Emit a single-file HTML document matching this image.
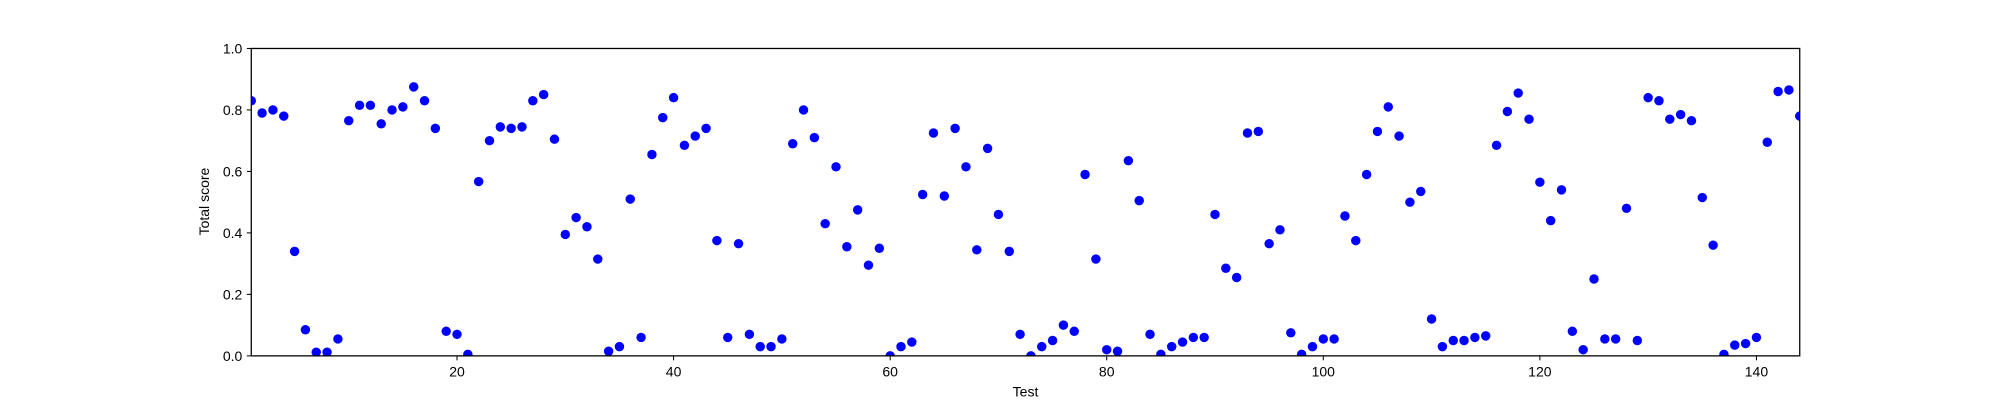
<!DOCTYPE html>
<html><head><meta charset="utf-8"><style>
html,body{margin:0;padding:0;background:#fff;}
svg{display:block;font-family:"Liberation Sans","DejaVu Sans",sans-serif;}
</style></head><body>
<svg id="chart" width="2000" height="400" viewBox="0 0 1568 313.6" preserveAspectRatio="none" xmlns="http://www.w3.org/2000/svg">
<defs><clipPath id="clip"><rect x="197" y="38" width="1214" height="241"/></clipPath></defs>
<g id="points" clip-path="url(#clip)"></g>
<rect x="197" y="38" width="1214" height="241" fill="none" stroke="#000" stroke-width="1"/>
<g id="xticks"></g>
<g id="yticks"></g>
<text x="804" y="311" font-size="11" text-anchor="middle">Test</text>
<text x="164" y="158" font-size="11" text-anchor="middle" transform="rotate(-90 164 158)">Total score</text>
</svg>
<script>
const scores = [0.83,0.79,0.80,0.78,0.34,0.085,0.012,0.012,0.055,0.765,
0.815,0.815,0.755,0.80,0.81,0.875,0.83,0.74,0.08,0.07,
0.005,0.567,0.70,0.745,0.74,0.745,0.83,0.85,0.705,0.395,
0.45,0.42,0.315,0.015,0.03,0.51,0.06,0.655,0.775,0.84,
0.685,0.715,0.74,0.375,0.06,0.365,0.07,0.03,0.03,0.055,
0.69,0.80,0.71,0.43,0.615,0.355,0.475,0.295,0.35,0.0,
0.03,0.045,0.525,0.725,0.52,0.74,0.615,0.345,0.675,0.46,
0.34,0.07,0.0,0.03,0.05,0.10,0.08,0.59,0.315,0.02,
0.015,0.635,0.505,0.07,0.005,0.03,0.045,0.06,0.06,0.46,
0.285,0.255,0.725,0.73,0.365,0.41,0.075,0.005,0.03,0.055,
0.055,0.455,0.375,0.59,0.73,0.81,0.715,0.50,0.535,0.12,
0.03,0.05,0.05,0.06,0.065,0.685,0.795,0.855,0.77,0.565,
0.44,0.54,0.08,0.02,0.25,0.055,0.055,0.48,0.05,0.84,
0.83,0.77,0.785,0.765,0.515,0.36,0.005,0.035,0.04,0.06,
0.695,0.86,0.865,0.78];
const xTickValues = [20,40,60,80,100,120,140];
const yTickValues = [0.0,0.2,0.4,0.6,0.8,1.0];
const yTickLabels = ["0.0","0.2","0.4","0.6","0.8","1.0"];

const NS = "http://www.w3.org/2000/svg";
const X0=197, X1=1411, Y0=279, Y1=38, XMIN=1, XMAX=144;
function xs(v){return X0+(v-XMIN)/(XMAX-XMIN)*(X1-X0);}
function ys(v){return Y0-v*(Y0-Y1);}
const pts=document.getElementById('points');
scores.forEach((s,i)=>{
  const c=document.createElementNS(NS,'circle');
  c.setAttribute('cx',xs(i+1));c.setAttribute('cy',ys(s));c.setAttribute('r',3.7);
  c.setAttribute('fill','#0000ff');
  
  
  pts.appendChild(c);
});
const xg=document.getElementById('xticks');
xTickValues.forEach(v=>{
  const x=xs(v);
  const l=document.createElementNS(NS,'line');
  l.setAttribute('x1',x);l.setAttribute('x2',x);l.setAttribute('y1',279);l.setAttribute('y2',282.5);l.setAttribute('stroke','#000');l.setAttribute('stroke-width','0.8');
  
  
  xg.appendChild(l);
  const t=document.createElementNS(NS,'text');
  t.setAttribute('x',x);t.setAttribute('y',295);t.setAttribute('font-size','11');t.setAttribute('text-anchor','middle');
  t.textContent=v;
  
  
  xg.appendChild(t);
});
const yg=document.getElementById('yticks');
yTickValues.forEach((v,i)=>{
  const y=ys(v);
  const l=document.createElementNS(NS,'line');
  l.setAttribute('x1',193.5);l.setAttribute('x2',197);l.setAttribute('y1',y);l.setAttribute('y2',y);l.setAttribute('stroke','#000');l.setAttribute('stroke-width','0.8');
  
  
  yg.appendChild(l);
  const t=document.createElementNS(NS,'text');
  t.setAttribute('x',190);t.setAttribute('y',y+4);t.setAttribute('font-size','11');t.setAttribute('text-anchor','end');
  t.textContent=yTickLabels[i];
  
  
  yg.appendChild(t);
});
</script>
</body></html>
